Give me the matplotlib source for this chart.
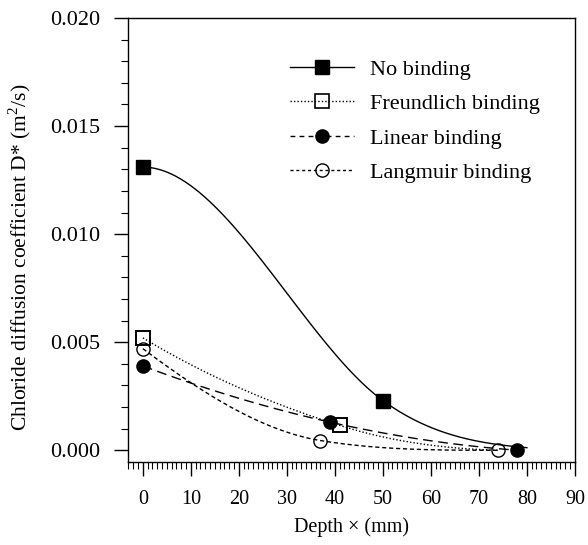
import numpy as np
import matplotlib
matplotlib.use("Agg")
import matplotlib.pyplot as plt
from matplotlib.ticker import MultipleLocator, FormatStrFormatter

plt.rcParams['font.family'] = ['Liberation Serif', 'DejaVu Serif']
plt.rcParams['mathtext.fontset'] = 'custom'
plt.rcParams['mathtext.rm'] = 'Liberation Serif'

# data (depth in mm, D* in m2/s)
x_none = [0, 50, 80]
y_none = [0.0131, 0.0023, 0.00012]

x_freund = [0, 41, 74]
y_freund = [0.0052, 0.00115, 0.0]

x_linear = [0, 39, 78]
y_linear = [0.0039, 0.0013, 0.0]

x_langmuir = [0, 37, 74]
y_langmuir = [0.0047, 0.00045, 0.0]

labels = ['No binding', 'Freundlich binding', 'Linear binding', 'Langmuir binding']


def smooth(x, y, flat_start=False, n=200):
    # monotone cubic hermite curve through the points
    x = np.asarray(x, float)
    y = np.asarray(y, float)
    h = np.diff(x)
    s = np.diff(y) / h
    m = np.zeros(len(x))
    for i in range(1, len(x) - 1):
        m[i] = (y[i + 1] - y[i - 1]) / (x[i + 1] - x[i - 1])
    m[0] = ((2 * h[0] + h[1]) * s[0] - h[0] * s[1]) / (h[0] + h[1])
    m[-1] = ((2 * h[-1] + h[-2]) * s[-1] - h[-1] * s[-2]) / (h[-1] + h[-2])
    if np.sign(m[-1]) != np.sign(s[-1]):
        m[-1] = 0
    if flat_start:
        m[0] = 0
    for i in range(len(s)):
        if s[i] == 0:
            m[i] = m[i + 1] = 0
            continue
        a, b = m[i] / s[i], m[i + 1] / s[i]
        r = a * a + b * b
        if r > 9:
            tau = 3 / np.sqrt(r)
            m[i], m[i + 1] = tau * a * s[i], tau * b * s[i]
    xs, ys = [], []
    for i in range(len(x) - 1):
        t = np.linspace(0, 1, n)
        h00 = 2 * t**3 - 3 * t**2 + 1
        h10 = t**3 - 2 * t**2 + t
        h01 = -2 * t**3 + 3 * t**2
        h11 = t**3 - t**2
        xs.append(x[i] + t * h[i])
        ys.append(h00 * y[i] + h10 * h[i] * m[i] + h01 * y[i + 1] + h11 * h[i] * m[i + 1])
    return np.concatenate(xs), np.concatenate(ys)


fig = plt.figure(figsize=(5.88, 5.45), dpi=100)
ax = fig.add_axes([0.2177, 0.152, 0.76, 0.815])

ms = 9.5
ls_none = '-'
ls_freund = (0, (1, 1.5))
ls_linear = (0, (7, 4))
ls_langmuir = (0, (3, 2))

xs, ys = smooth(x_none, y_none, flat_start=True)
ax.plot(xs, ys, color='black', lw=1.0, ls=ls_none)
ax.plot(x_none[:2], y_none[:2], 's', color='black', ms=ms)

xs, ys = smooth(x_freund, y_freund)
ax.plot(xs, ys, color='black', lw=1.0, ls=ls_freund)

xs, ys = smooth(x_linear, y_linear)
ax.plot(xs, ys, color='black', lw=1.0, ls=ls_linear)
ax.plot(x_linear, y_linear, 'o', color='black', ms=ms)

ax.plot(x_freund[:2], y_freund[:2], 's', mfc='none', mec='black', ms=ms, mew=1.4)

xs, ys = smooth(x_langmuir, y_langmuir)
ax.plot(xs, ys, color='black', lw=1.0, ls=ls_langmuir)
ax.plot(x_langmuir, y_langmuir, 'o', mfc='none', mec='black', ms=ms, mew=1.0)

# legend handles
h1, = ax.plot([], [], color='black', lw=1.0, ls=ls_none, marker='s', ms=ms)
h2, = ax.plot([], [], color='black', lw=1.0, ls=ls_freund, marker='s', ms=ms, mfc='none', mew=1.2)
h3, = ax.plot([], [], color='black', lw=1.0, ls=(0, (3.5, 3)), marker='o', ms=ms)
h4, = ax.plot([], [], color='black', lw=1.0, ls=(0, (2.2, 2)), marker='o', ms=ms, mfc='none')
ax.legend([h1, h2, h3, h4], labels,
          loc='upper left', bbox_to_anchor=(0.362, 0.907), frameon=False, fontsize=16,
          handlelength=2.9, labelspacing=0.62, handletextpad=0.7, borderpad=0,
          borderaxespad=0)

ax.set_xlim(-3.1, 90)
ax.set_ylim(-0.00055, 0.020)
ax.xaxis.set_major_locator(MultipleLocator(10))
ax.xaxis.set_minor_locator(MultipleLocator(1))
ax.yaxis.set_major_locator(MultipleLocator(0.005))
ax.yaxis.set_minor_locator(MultipleLocator(0.001))
ax.yaxis.set_major_formatter(FormatStrFormatter('%.3f'))
ax.tick_params(which='major', direction='out', length=10, width=1.0, pad=10)
ax.tick_params(which='minor', direction='out', length=5, width=0.8)
ax.tick_params(axis='x', labelsize=14.5)
ax.tick_params(axis='y', labelsize=16)
for s in ax.spines.values():
    s.set_linewidth(1.0)

ax.set_xlabel('Depth \u00d7 (mm)', fontsize=14.5)
ax.set_ylabel('Chloride diffusion coefficient D* (m$^2$/s)', fontsize=15.5)
ax.xaxis.set_label_coords(0.5, -0.125)
ax.yaxis.set_label_coords(-0.2125, 0.462)

fig.savefig('out.png', dpi=100)
